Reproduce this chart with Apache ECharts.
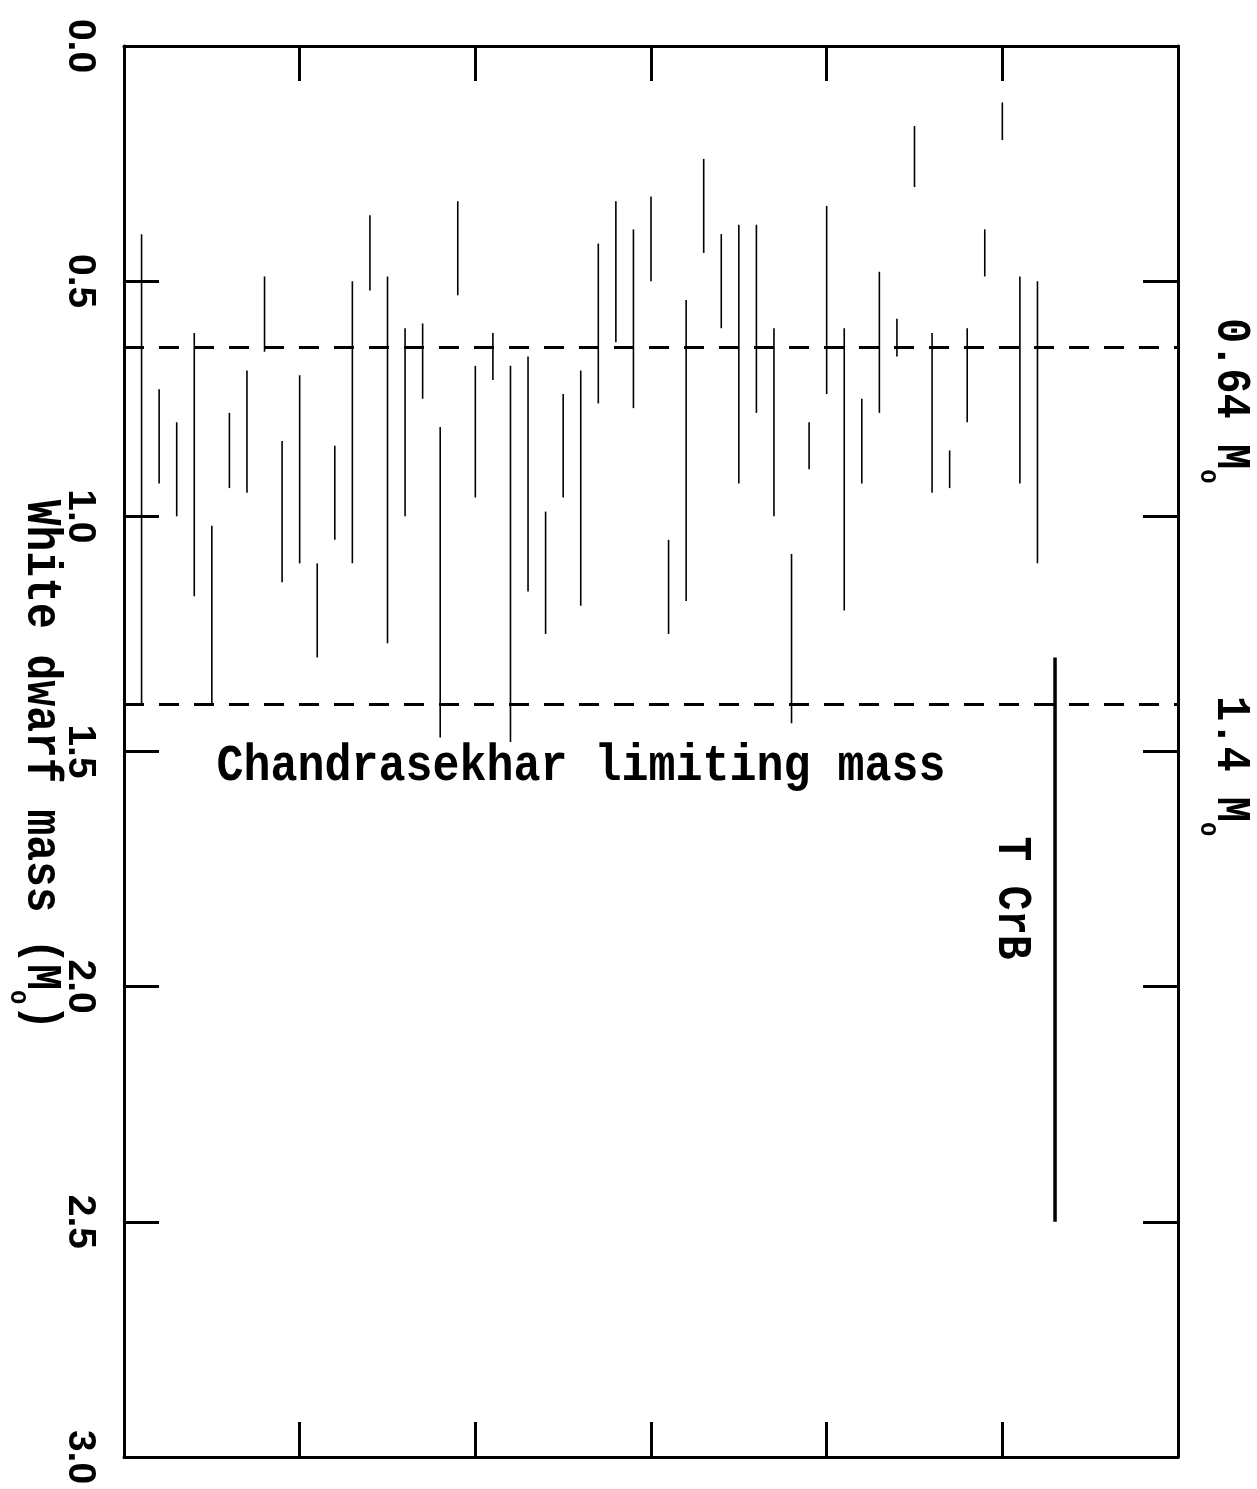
<!DOCTYPE html>
<html>
<head>
<meta charset="utf-8">
<script src="https://cdn.jsdelivr.net/npm/echarts@6/dist/echarts.min.js"></script>
<style>
html,body{margin:0;padding:0;background:#fff;}
#chart{width:1257px;height:1489px;}
</style>
</head>
<body>
<div id="chart"></div>
<script>
// Mass ranges (solar masses) for each object
var massLow = [0.40, 0.73, 0.80, 0.61, 1.02, 0.78, 0.69, 0.49, 0.84, 0.70,
               1.10, 0.85, 0.50, 0.36, 0.49, 0.60, 0.59, 0.81, 0.33, 0.68,
               0.61, 0.68, 0.66, 0.99, 0.74, 0.69, 0.42, 0.33, 0.39, 0.32,
               1.05, 0.54, 0.24, 0.40, 0.38, 0.38, 0.60, 1.08, 0.80, 0.34,
               0.60, 0.75, 0.48, 0.58, 0.17, 0.61, 0.86, 0.60, 0.39, 0.12,
               0.49, 0.50];
var massHigh = [1.40, 0.93, 1.00, 1.17, 1.40, 0.94, 0.95, 0.65, 1.14, 1.10,
                1.30, 1.05, 1.10, 0.52, 1.27, 1.00, 0.75, 1.47, 0.53, 0.96,
                0.71, 1.48, 1.16, 1.25, 0.96, 1.19, 0.76, 0.63, 0.77, 0.50,
                1.25, 1.18, 0.44, 0.60, 0.93, 0.78, 1.00, 1.44, 0.90, 0.74,
                1.20, 0.93, 0.78, 0.66, 0.30, 0.95, 0.94, 0.80, 0.49, 0.20,
                0.93, 1.10];
var tcrbIndex = 53;
var tcrbRange = [1.30, 2.50];
var referenceMasses = [0.64, 1.4];
var yTickValues = [0.0, 0.5, 1.0, 1.5, 2.0, 2.5, 3.0];

var objData = massLow.map(function (lo, i) { return [i + 1, lo, massHigh[i]]; });
var tcrbData = [[tcrbIndex, tcrbRange[0], tcrbRange[1]]];

var monoFont = "'Liberation Mono', 'Courier New', monospace";
var sansFont = "'Liberation Sans Narrow', 'Liberation Sans', Arial, sans-serif";
var textStretch = 1.15;

function makeRender(width) {
  return function (params, api) {
    var x = api.value(0), lo = api.value(1), hi = api.value(2);
    var p1 = api.coord([x, lo]);
    var p2 = api.coord([x, hi]);
    return {
      type: 'line',
      shape: { x1: p1[0], y1: p1[1], x2: p2[0], y2: p2[1] },
      style: { stroke: '#000', lineWidth: width }
    };
  };
}

var axisLineStyle = { show: true, onZero: false, lineStyle: { color: '#000', width: 3 } };
var axisTickStyle = { show: true, inside: true, length: 35, lineStyle: { color: '#000', width: 3 } };

function richMass(fs) {
  return {
    m: { fontSize: fs, fontFamily: monoFont, fontWeight: 'bold', lineHeight: 62, verticalAlign: 'middle', fill: '#000' },
    s: { fontSize: 24, fontFamily: monoFont, fontWeight: 'bold', lineHeight: 24, verticalAlign: 'bottom', fill: '#000' }
  };
}

var chart = echarts.init(document.getElementById('chart'), null, { renderer: 'canvas' });
var option = {
  animation: false,
  backgroundColor: '#fff',
  grid: { left: 124, top: 46, right: 79, bottom: 32, containLabel: false },
  xAxis: [
    { type: 'value', min: 0, max: 60, interval: 10, position: 'bottom',
      axisLine: axisLineStyle, axisTick: axisTickStyle,
      axisLabel: { show: false }, splitLine: { show: false } },
    { type: 'value', min: 0, max: 60, interval: 10, position: 'top',
      axisLine: axisLineStyle, axisTick: axisTickStyle,
      axisLabel: { show: false }, splitLine: { show: false } }
  ],
  yAxis: [
    { type: 'value', min: 0, max: 3, interval: 0.5, inverse: true, position: 'left',
      axisLine: axisLineStyle, axisTick: axisTickStyle, splitLine: { show: false },
      axisLabel: {
        show: true, rotate: -90, margin: 25, align: 'center', verticalAlign: 'top',
        fontSize: 39, fontFamily: sansFont, fontWeight: 'bold', color: '#000',
        showMinLabel: true, showMaxLabel: true,
        formatter: function (v) {
          for (var i = 0; i < yTickValues.length; i++) {
            if (Math.abs(yTickValues[i] - v) < 1e-6) return yTickValues[i].toFixed(1);
          }
          return '';
        }
      } },
    { type: 'value', min: 0, max: 3, interval: 0.5, inverse: true, position: 'right',
      axisLine: axisLineStyle, axisTick: axisTickStyle, splitLine: { show: false },
      axisLabel: { show: false } }
  ],
  series: [
    {
      type: 'custom', name: 'objects', xAxisIndex: 0, yAxisIndex: 0,
      renderItem: makeRender(1.6), data: objData,
      encode: { x: 0, y: [1, 2] },
      markLine: {
        silent: true, symbol: ['none', 'none'], label: { show: false },
        lineStyle: { type: [20, 15], width: 3, color: '#000' },
        data: referenceMasses.map(function (m) { return { yAxis: m }; })
      }
    },
    {
      type: 'custom', name: 'T CrB', xAxisIndex: 0, yAxisIndex: 0,
      renderItem: makeRender(3.5), data: tcrbData,
      encode: { x: 0, y: [1, 2] }
    }
  ],
  graphic: [
    { type: 'text', x: 40, y: 765, rotation: -Math.PI / 2, scaleY: textStretch,
      style: {
        text: '{m|White dwarf mass (M}{s|o}{m|)}',
        align: 'center', verticalAlign: 'middle', fill: '#000',
        rich: richMass(43)
      } },
    { type: 'text', x: 581, y: 767, scaleY: textStretch,
      style: {
        text: 'Chandrasekhar limiting mass', fontSize: 45, fontFamily: monoFont, fontWeight: 'bold',
        fill: '#000', align: 'center', verticalAlign: 'middle'
      } },
    { type: 'text', x: 1011, y: 898, rotation: -Math.PI / 2, scaleY: textStretch,
      style: {
        text: 'T CrB', fontSize: 41, fontFamily: monoFont, fontWeight: 'bold',
        fill: '#000', align: 'center', verticalAlign: 'middle'
      } },
    { type: 'text', x: 1230, y: 318, rotation: -Math.PI / 2, scaleY: textStretch,
      style: {
        text: '{m|0.64 M}{s|o}',
        align: 'left', verticalAlign: 'middle', fill: '#000',
        rich: richMass(42)
      } },
    { type: 'text', x: 1230, y: 696, rotation: -Math.PI / 2, scaleY: textStretch,
      style: {
        text: '{m|1.4 M}{s|o}',
        align: 'left', verticalAlign: 'middle', fill: '#000',
        rich: richMass(42)
      } }
  ]
};
chart.setOption(option);
</script>
</body>
</html>
